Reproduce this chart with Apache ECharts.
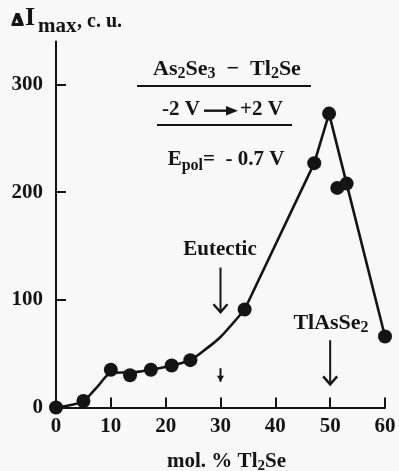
<!DOCTYPE html>
<html><head><meta charset="utf-8">
<script src="https://cdn.jsdelivr.net/npm/echarts@6/dist/echarts.min.js"></script>
<style>html,body{margin:0;padding:0;background:#f8f8f8}#c{width:399px;height:471px}</style>
</head><body><div id="c"></div>
<script>
// ---- data ----
const xTicks = [0, 10, 20, 30, 40, 50, 60];
const yTicks = [0, 100, 200, 300];
// measured points (dots)
const dotX = [0, 5, 10, 13.5, 17.3, 21.1, 24.5, 34.4, 47.1, 49.8, 51.3, 53, 60];
const dotY = [0, 6, 35, 30, 35, 39, 44, 91, 227, 273, 204, 208, 66];
// drawn guide curve
const curveSmoothX = [0, 2.5, 5, 7.5, 10, 12, 13.5, 17.3, 21.1, 24.5, 27, 30, 34.4];
const curveSmoothY = [0, 2, 6, 19, 32, 32.5, 32.5, 35, 39, 44, 53, 65.5, 91];
const curveStraightX = [34.4, 47.1, 49.8, 53, 60];
const curveStraightY = [91, 227, 273, 208, 66];
// arrows: [x, yFrom, yTo] in data units
const arrowEutectic = [30, 130, 88.5];
const arrowSmall = [30, 36.5, 24];
const arrowCompound = [50, 62.5, 21.5];

const F = "'Liberation Serif','Times New Roman',serif";
const INK = '#141414';
const zip = (a, b) => a.map((v, i) => [v, b[i]]);

const chart = echarts.init(document.getElementById('c'), null, {renderer: 'canvas'});

const tok = (size, pad) => ({fontFamily: F, fontWeight: 'bold', fontSize: size, fill: INK, color: INK, padding: pad ? [pad, 0, 0, 0] : 0});

chart.setOption({
  backgroundColor: '#f8f8f8',
  animation: false,
  grid: {left: 56, right: 14, top: 41.5, bottom: 63.5, containLabel: false, outerBoundsMode: 'none'},
  xAxis: {
    type: 'value', min: 0, max: 60, interval: 10,
    axisLine: {show: true, onZero: false, lineStyle: {color: INK, width: 2}},
    axisTick: {show: true, inside: true, length: 10, lineStyle: {color: INK, width: 2}},
    axisLabel: {margin: 9, color: INK, fontFamily: F, fontWeight: 'bold', fontSize: 21},
    splitLine: {show: false},
    name: '{m|mol. % Tl}{s|2}{m|Se}', nameLocation: 'middle', nameGap: 42,
    nameTextStyle: {padding: [0, 0, 0, 12], rich: {m: tok(21), s: tok(15, 9)}}
  },
  yAxis: {
    type: 'value', min: 0, max: 340, interval: 100,
    axisLine: {show: true, onZero: false, lineStyle: {color: INK, width: 2}},
    axisTick: {show: true, inside: true, length: 10, customValues: yTicks, lineStyle: {color: INK, width: 2}},
    axisLabel: {margin: 13, customValues: yTicks, color: INK, fontFamily: F, fontWeight: 'bold', fontSize: 21},
    splitLine: {show: false}
  },
  series: [
    {type: 'line', data: zip(curveSmoothX, curveSmoothY), smooth: 0.3, symbol: 'none',
     lineStyle: {color: INK, width: 2.6}, z: 2},
    {type: 'line', data: zip(curveStraightX, curveStraightY), smooth: false, symbol: 'none',
     lineStyle: {color: INK, width: 2.6}, z: 2},
    {type: 'scatter', data: zip(dotX, dotY), symbolSize: 14, itemStyle: {color: INK, opacity: 1}, z: 3}
  ]
});

function px(x, y) { return chart.convertToPixel({gridIndex: 0}, [x, y]); }
function arrow(spec, hw, hh, filled) {
  const a = px(spec[0], spec[1]), b = px(spec[0], spec[2]);
  const els = [{type: 'line', shape: {x1: a[0], y1: a[1], x2: b[0], y2: b[1]}, style: {stroke: INK, lineWidth: 2}}];
  if (filled) {
    els.push({type: 'polygon', shape: {points: [[b[0] - hw, b[1] - hh], [b[0], b[1]], [b[0] + hw, b[1] - hh]]}, style: {fill: INK}});
  } else {
    els.push({type: 'polyline', shape: {points: [[b[0] - hw, b[1] - hh], [b[0], b[1]], [b[0] + hw, b[1] - hh]]}, style: {stroke: INK, lineWidth: 2.4, fill: null}});
  }
  return els;
}
function text(x, y, str, size, align, extra) {
  return {type: 'text', x: x, y: y, style: Object.assign({text: str, fill: INK, fontFamily: F, fontWeight: 'bold', fontSize: size, align: align || 'center', verticalAlign: 'middle'}, extra || {})};
}
function rich(x, y, str, r, align) {
  return {type: 'text', x: x, y: y, style: {text: str, rich: r, fill: INK, fontFamily: F, fontWeight: 'bold', fontSize: 21, align: align || 'center', verticalAlign: 'middle'}};
}

const g = [];
// y-axis title
g.push(text(17.5, 20.5, 'Δ', 17, 'center', {stroke: INK, lineWidth: 2}));
g.push(text(25, 18.5, 'I', 26, 'left'));
g.push(text(38, 26.5, 'max', 21, 'left'));
g.push(text(77, 21.5, ', c. u.', 20, 'left'));
// header box
g.push(rich(227, 69, '{m|As}{s|2}{m|Se}{s|3}{m|  −  Tl}{s|2}{m|Se}', {m: tok(22), s: tok(16, 9)}));
g.push({type: 'line', shape: {x1: 137, y1: 86, x2: 311, y2: 86}, style: {stroke: INK, lineWidth: 2}});
g.push(text(200, 110, '-2 V', 21, 'right'));
g.push({type: 'line', shape: {x1: 204, y1: 110.7, x2: 228, y2: 110.7}, style: {stroke: INK, lineWidth: 2.4}});
g.push({type: 'polygon', shape: {points: [[226, 106], [238, 110.7], [226, 115.4]]}, style: {fill: INK}});
g.push(text(240, 110, '+2 V', 21, 'left'));
g.push({type: 'line', shape: {x1: 157, y1: 125, x2: 292, y2: 125}, style: {stroke: INK, lineWidth: 2}});
g.push(rich(226, 160, '{m|E}{s|pol}{m|=  - 0.7 V}', {m: tok(21), s: tok(16, 11)}));
// annotations
g.push(text(220, 250, 'Eutectic', 21, 'center'));
g.push(rich(331, 323, '{m|TlAsSe}{s|2}', {m: tok(22), s: tok(16, 9)}));
arrow(arrowEutectic, 7, 8, false).forEach(e => g.push(e));
arrow(arrowSmall, 3.5, 6, true).forEach(e => g.push(e));
arrow(arrowCompound, 7, 8, false).forEach(e => g.push(e));

chart.setOption({graphic: g});
</script>
</body></html>
